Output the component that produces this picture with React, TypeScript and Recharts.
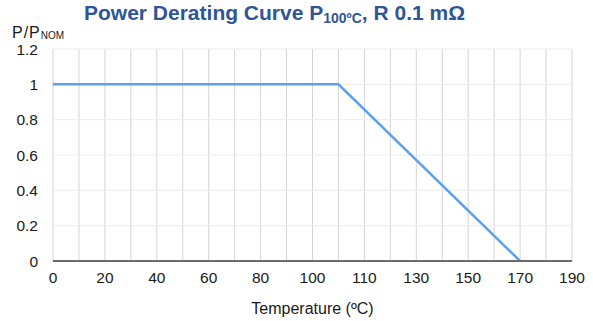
import React from 'react';
import { LineChart, Line, XAxis, YAxis, CartesianGrid } from 'recharts';

// category labels, one per grid column (only every other one is printed)
const tempLabels = [
  '0', '10', '20', '30', '40', '50', '60', '70', '80', '90', '100',
  '105', '110', '120', '130', '140', '150', '160', '170', '180', '190'
];

// P/Pnom; gaps are bridged by the line
const powerRatio: (number | null)[] = [
  1, 1, 1, 1, 1, 1, 1, 1, 1, 1, 1,
  1, null, null, null, null, null, null, 0, null, null
];

const yTicks = [0, 0.2, 0.4, 0.6, 0.8, 1, 1.2];

const data = tempLabels.map((t, i) => ({ x: i, t, p: powerRatio[i] }));
const xTicks = tempLabels.map((_, i) => i);

const FONT = '"Liberation Sans", Arial, Helvetica, sans-serif';

const App: React.FC = () => {
  return (
    <div style={{ position: 'absolute', left: 0, top: 0, width: 593, height: 321, background: '#fff', fontFamily: FONT }}>
      <div
        style={{
          position: 'absolute',
          left: 84,
          top: 1,
          fontSize: 21,
          lineHeight: '24px',
          fontWeight: 'bold',
          color: '#2f5597',
          whiteSpace: 'nowrap'
        }}
      >
        Power Derating Curve P
        <span style={{ fontSize: 14, position: 'relative', top: 3 }}>100ºC</span>
        , R 0.1 mΩ
      </div>
      <div
        style={{
          position: 'absolute',
          left: 12,
          top: 24,
          fontSize: 16,
          lineHeight: '18px',
          letterSpacing: 1,
          color: '#1a1a1a',
          whiteSpace: 'nowrap'
        }}
      >
        P/P<span style={{ fontSize: 10, letterSpacing: 0, position: 'relative', top: 1 }}>NOM</span>
      </div>
      <LineChart
        width={593}
        height={321}
        data={data}
        margin={{ top: 49, right: 21, left: 0, bottom: 0 }}
      >
        <CartesianGrid horizontal={false} stroke="#d4d4d4" strokeWidth={1} />
        <CartesianGrid vertical={false} stroke="#ececec" strokeWidth={1} />
        <XAxis
          type="number"
          dataKey="x"
          domain={[0, 20]}
          ticks={xTicks}
          interval={0}
          tickFormatter={(i: number) => (i % 2 === 0 ? tempLabels[i] : '')}
          tickLine={false}
          axisLine={{ stroke: '#6b6b6b', strokeWidth: 2 }}
          tick={{ fill: '#1a1a1a', fontSize: 15.5 }}
          tickMargin={5}
          height={60}
          label={{ value: 'Temperature (ºC)', position: 'insideBottom', offset: 7, fill: '#1a1a1a', fontSize: 16 }}
        />
        <YAxis
          domain={[0, 1.2]}
          ticks={yTicks}
          interval={0}
          width={53}
          tickLine={false}
          axisLine={false}
          tick={{ fill: '#1a1a1a', fontSize: 15.5 }}
          tickMargin={9}
        />
        <Line
          type="linear"
          dataKey="p"
          stroke="#5aa2f0"
          strokeWidth={2.5}
          dot={false}
          connectNulls
          isAnimationActive={false}
        />
      </LineChart>
    </div>
  );
};

export default App;
